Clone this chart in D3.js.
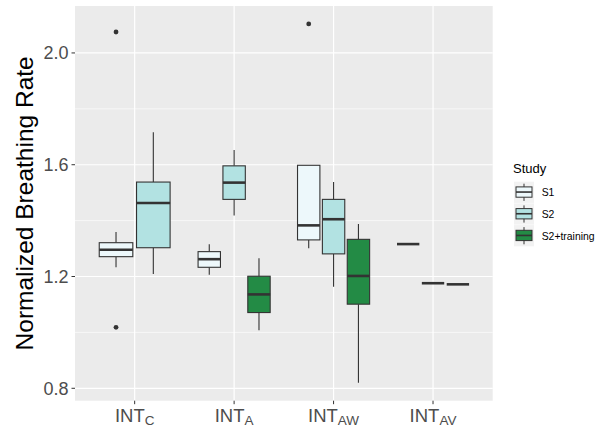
<!DOCTYPE html>
<html>
<head>
<meta charset="utf-8">
<script src="https://cdn.jsdelivr.net/npm/d3@7"></script>
<style>
  html, body { margin: 0; padding: 0; background: #ffffff; }
  svg { display: block; font-family: "Liberation Sans", Arial, Helvetica, sans-serif; }
</style>
</head>
<body>
<svg id="chart" width="596" height="430"></svg>
<script>
// ---- data ----
const categories = ["C", "A", "AW", "AV"];
const categoryBase = "INT";
const studies = ["S1", "S2", "S2+training"];
const studyColors = ["#edf8fb", "#b2e2e2", "#238b45"];
const yTicks = [0.8, 1.2, 1.6, 2.0];
const yMinor = [1.0, 1.4, 1.8];

// box stats: [lower whisker, q1, median, q3, upper whisker]
const s1Boxes = [
  [1.233, 1.271, 1.296, 1.321, 1.359],
  [1.206, 1.233, 1.262, 1.289, 1.315],
  [1.301, 1.331, 1.383, 1.598, 1.598],
  [1.316, 1.316, 1.316, 1.316, 1.316]
];
const s2Boxes = [
  [1.209, 1.303, 1.463, 1.538, 1.716],
  [1.418, 1.476, 1.536, 1.596, 1.653],
  [1.163, 1.281, 1.405, 1.476, 1.538],
  [1.176, 1.176, 1.176, 1.176, 1.176]
];
const s2TrainingBoxes = [
  null,
  [1.008, 1.071, 1.136, 1.201, 1.265],
  [0.820, 1.101, 1.202, 1.333, 1.388],
  [1.172, 1.172, 1.172, 1.172, 1.172]
];
const s1Outliers = [[2.075, 1.018], [], [2.104], []];
const s2Outliers = [[], [], [], []];
const s2TrainingOutliers = [[], [], [], []];

// ---- build table ----
const boxSets = [s1Boxes, s2Boxes, s2TrainingBoxes];
const outlierSets = [s1Outliers, s2Outliers, s2TrainingOutliers];
const rows = [];
categories.forEach((c, ci) => {
  const present = studies.map((s, si) => si).filter(si => boxSets[si][ci]);
  present.forEach((si, k) => {
    const b = boxSets[si][ci];
    rows.push({ ci, si, k, n: present.length,
      lo: b[0], q1: b[1], med: b[2], q3: b[3], hi: b[4],
      out: outlierSets[si][ci] });
  });
});

// ---- layout ----
const svg = d3.select("#chart");
const panel = { left: 75, right: 492.7, top: 6, bottom: 400.7 };
const x = d3.scaleLinear().domain([0.4, categories.length + 0.6]).range([panel.left, panel.right]);
const y = d3.scaleLinear().domain([0.7556, 2.168]).range([panel.bottom, panel.top]);
const color = d3.scaleOrdinal().domain(studies).range(studyColors);

const totalW = 0.75;
function slotCenter(r) {
  const slot = totalW / r.n;
  return (r.ci + 1) - totalW / 2 + slot * (r.k + 0.5);
}
function boxHalf(r) { return (totalW / r.n) * 0.9 / 2; }

// panel background
svg.append("rect")
  .attr("x", panel.left).attr("y", panel.top)
  .attr("width", panel.right - panel.left).attr("height", panel.bottom - panel.top)
  .attr("fill", "#ebebeb");

// grid
const grid = svg.append("g");
grid.selectAll("line.minor").data(yMinor).join("line")
  .attr("x1", panel.left).attr("x2", panel.right)
  .attr("y1", d => y(d)).attr("y2", d => y(d))
  .attr("stroke", "#ffffff").attr("stroke-width", 0.6);
grid.selectAll("line.majory").data(yTicks).join("line")
  .attr("x1", panel.left).attr("x2", panel.right)
  .attr("y1", d => y(d)).attr("y2", d => y(d))
  .attr("stroke", "#ffffff").attr("stroke-width", 1.2);
grid.selectAll("line.majorx").data(categories).join("line")
  .attr("x1", (d, i) => x(i + 1)).attr("x2", (d, i) => x(i + 1))
  .attr("y1", panel.top).attr("y2", panel.bottom)
  .attr("stroke", "#ffffff").attr("stroke-width", 1.2);

// boxes
const boxes = svg.append("g");
const g = boxes.selectAll("g.box").data(rows).join("g");
g.append("line")
  .attr("x1", r => x(slotCenter(r))).attr("x2", r => x(slotCenter(r)))
  .attr("y1", r => y(r.hi)).attr("y2", r => y(r.q3))
  .attr("stroke", "#333333").attr("stroke-width", 1.1);
g.append("line")
  .attr("x1", r => x(slotCenter(r))).attr("x2", r => x(slotCenter(r)))
  .attr("y1", r => y(r.q1)).attr("y2", r => y(r.lo))
  .attr("stroke", "#333333").attr("stroke-width", 1.1);
g.append("rect")
  .attr("x", r => x(slotCenter(r) - boxHalf(r)))
  .attr("width", r => x(slotCenter(r) + boxHalf(r)) - x(slotCenter(r) - boxHalf(r)))
  .attr("y", r => y(r.q3))
  .attr("height", r => y(r.q1) - y(r.q3))
  .attr("fill", r => color(studies[r.si]))
  .attr("stroke", "#333333").attr("stroke-width", 1.1);
g.append("line")
  .attr("x1", r => x(slotCenter(r) - boxHalf(r))).attr("x2", r => x(slotCenter(r) + boxHalf(r)))
  .attr("y1", r => y(r.med)).attr("y2", r => y(r.med))
  .attr("stroke", "#333333").attr("stroke-width", 2.6);
g.selectAll("circle").data(r => r.out.map(v => ({ v, r }))).join("circle")
  .attr("cx", d => x(slotCenter(d.r))).attr("cy", d => y(d.v))
  .attr("r", 2.4).attr("fill", "#333333");

// y axis
const yAxis = svg.append("g");
yAxis.selectAll("line").data(yTicks).join("line")
  .attr("x1", panel.left - 3.5).attr("x2", panel.left)
  .attr("y1", d => y(d)).attr("y2", d => y(d))
  .attr("stroke", "#333333").attr("stroke-width", 1);
yAxis.selectAll("text").data(yTicks).join("text")
  .attr("x", panel.left - 6.5).attr("y", d => y(d))
  .attr("dy", "0.36em")
  .attr("text-anchor", "end")
  .attr("font-size", 18).attr("fill", "#4d4d4d")
  .text(d => d3.format(".1f")(d));

// x axis
const xAxis = svg.append("g");
xAxis.selectAll("line").data(categories).join("line")
  .attr("x1", (d, i) => x(i + 1)).attr("x2", (d, i) => x(i + 1))
  .attr("y1", panel.bottom).attr("y2", panel.bottom + 3.5)
  .attr("stroke", "#333333").attr("stroke-width", 1);
const xt = xAxis.selectAll("text").data(categories).join("text")
  .attr("x", (d, i) => x(i + 1)).attr("y", 421.5)
  .attr("text-anchor", "middle")
  .attr("font-size", 18.5).attr("fill", "#4d4d4d");
xt.append("tspan").text(categoryBase);
xt.append("tspan").attr("dy", 3.5).attr("font-size", 13.5).text(d => d);

// y title
svg.append("text")
  .attr("transform", `translate(33,${(panel.top + panel.bottom) / 2}) rotate(-90)`)
  .attr("text-anchor", "middle")
  .attr("font-size", 24.5).attr("fill", "#000000")
  .text("Normalized Breathing Rate");

// legend
const legend = svg.append("g");
legend.append("text")
  .attr("x", 513).attr("y", 173)
  .attr("font-size", 13).attr("fill", "#000000")
  .text("Study");
const keyH = 21.7, keyW = 20, key0 = 181.7;
const lk = legend.selectAll("g.key").data(studies).join("g")
  .attr("transform", (d, i) => `translate(514,${key0 + i * keyH})`);
lk.append("rect").attr("width", keyW).attr("height", keyH - 0.5)
  .attr("fill", "#f2f2f2");
lk.append("line").attr("x1", keyW / 2).attr("x2", keyW / 2)
  .attr("y1", 2).attr("y2", keyH - 2.5)
  .attr("stroke", "#333333").attr("stroke-width", 1);
lk.append("rect").attr("x", 2).attr("y", 5.2).attr("width", keyW - 4).attr("height", 10.3)
  .attr("fill", d => color(d)).attr("stroke", "#333333").attr("stroke-width", 1);
lk.append("line").attr("x1", 2).attr("x2", keyW - 2)
  .attr("y1", 10.35).attr("y2", 10.35)
  .attr("stroke", "#333333").attr("stroke-width", 1.6);
lk.append("text").attr("x", 27.7).attr("y", keyH / 2)
  .attr("dy", "0.36em")
  .attr("font-size", 10.4).attr("fill", "#000000")
  .text(d => d);
</script>
</body>
</html>
